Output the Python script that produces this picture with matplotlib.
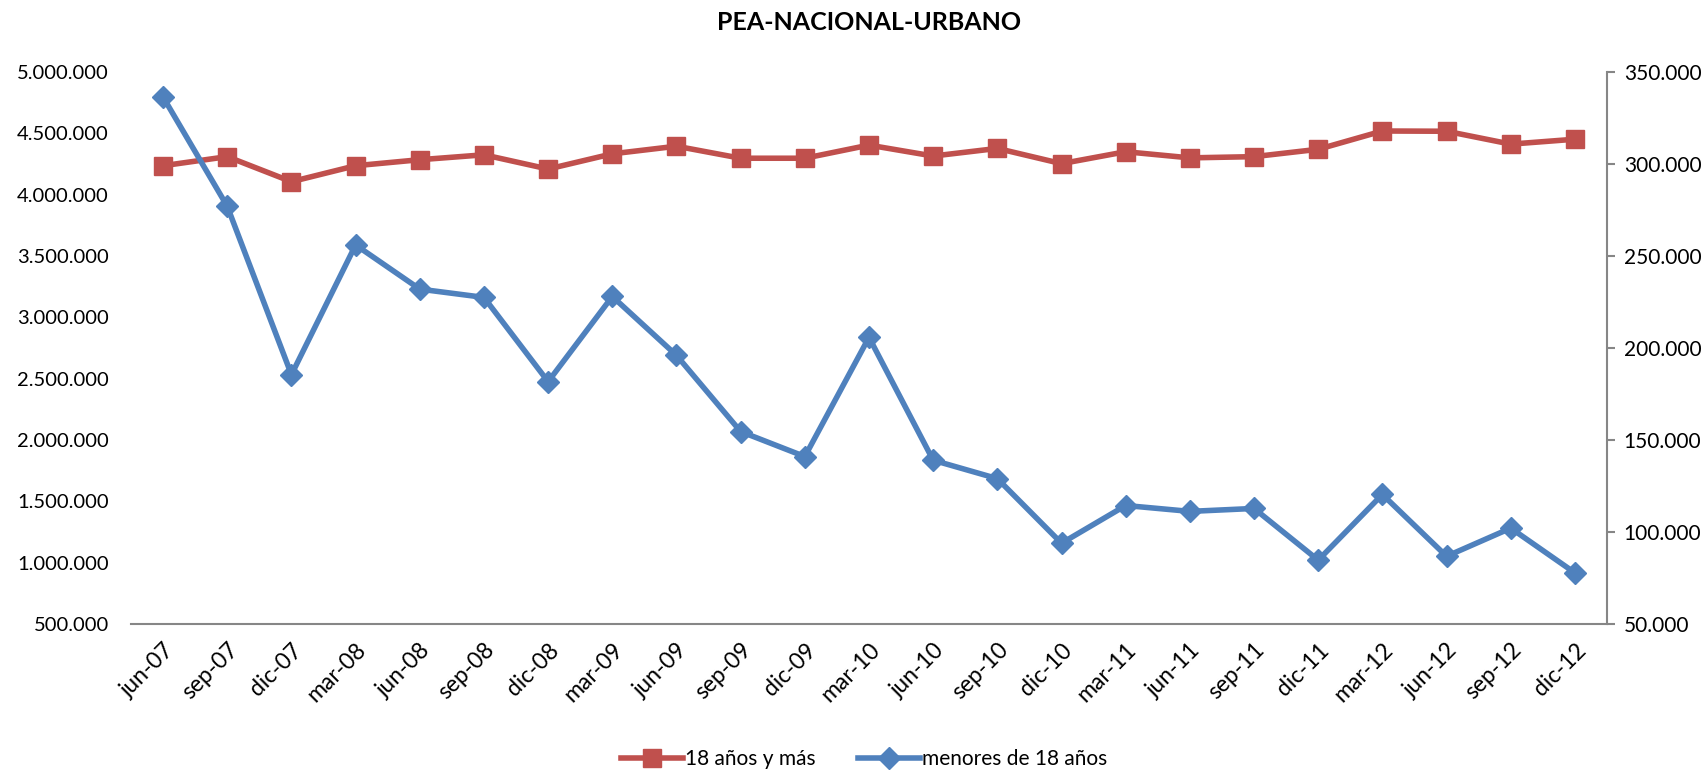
import matplotlib
matplotlib.use("Agg")
import matplotlib.pyplot as plt
from matplotlib.ticker import FuncFormatter

plt.rcParams['font.family'] = ['Lato', 'DejaVu Sans']

categories = ["jun-07", "sep-07", "dic-07", "mar-08", "jun-08", "sep-08", "dic-08",
              "mar-09", "jun-09", "sep-09", "dic-09", "mar-10", "jun-10", "sep-10",
              "dic-10", "mar-11", "jun-11", "sep-11", "dic-11", "mar-12", "jun-12",
              "sep-12", "dic-12"]

adultos = [4236000, 4310000, 4106000, 4236000, 4285000, 4325000, 4209000,
           4333000, 4395000, 4297000, 4297000, 4404000, 4315000, 4377000,
           4253000, 4350000, 4300000, 4310000, 4370000, 4519000, 4517000,
           4412000, 4452000]

menores = [336400, 277000, 185500, 256000, 232000, 227500, 181700,
           228000, 196000, 154600, 141000, 205800, 139000, 129000,
           93900, 114400, 111200, 112800, 84700, 120400, 86800,
           102100, 77800]

title = "PEA-NACIONAL-URBANO"
label_adultos = "18 años y más"
label_menores = "menores de 18 años"

red = "#C0504D"
blue = "#4F81BD"
gray = "#868686"

def fmt(v, pos):
    return f"{int(round(v)):,}".replace(",", ".")

fig = plt.figure(figsize=(17.07, 7.74), dpi=100)
ax = fig.add_axes([131/1707, 1-624/774, (1607-131)/1707, (624-72)/774])
ax2 = ax.twinx()

x = list(range(len(categories)))
l1, = ax.plot(x, adultos, color=red, lw=4, marker='s', markersize=13,
              markeredgecolor=red, label=label_adultos, zorder=3)
l2, = ax2.plot(x, menores, color=blue, lw=4, marker='D', markersize=11,
               markeredgecolor=blue, label=label_menores, zorder=3)

ax.set_xlim(-0.5, len(categories) - 0.5)
ax.set_ylim(500000, 5000000)
ax.set_yticks(range(500000, 5000001, 500000))
ax2.set_ylim(50000, 350000)
ax2.set_yticks(range(50000, 350001, 50000))
ax.yaxis.set_major_formatter(FuncFormatter(fmt))
ax2.yaxis.set_major_formatter(FuncFormatter(fmt))

for a in (ax, ax2):
    for s in ('top', 'left', 'right', 'bottom'):
        a.spines[s].set_visible(False)
ax.spines['bottom'].set_visible(True)
ax.spines['bottom'].set_color(gray)
ax.spines['bottom'].set_linewidth(1.5)
ax2.spines['right'].set_visible(True)
ax2.spines['right'].set_color(gray)
ax2.spines['right'].set_linewidth(1.5)

ax.set_xticks(x)
ax.set_xticklabels(categories, rotation=45, ha='right', va='top',
                   rotation_mode='anchor', fontsize=16.5)
ax.tick_params(axis='x', length=0, pad=11)
ax.tick_params(axis='y', length=0, pad=16, labelsize=14.5)
ax2.tick_params(axis='y', length=6, width=1.5, color=gray, pad=6, labelsize=15)

fig.suptitle(title, x=(131+1607)/2/1707, y=1-22/774, va='center',
             fontsize=18, fontweight='bold')

fig.legend(handles=[l1, l2], loc='center', bbox_to_anchor=(864/1707, 1-759/774),
           ncol=2, frameon=False, fontsize=15, handlelength=3.0,
           columnspacing=2.0, handletextpad=0.1)

fig.savefig("out.png", dpi=100)
